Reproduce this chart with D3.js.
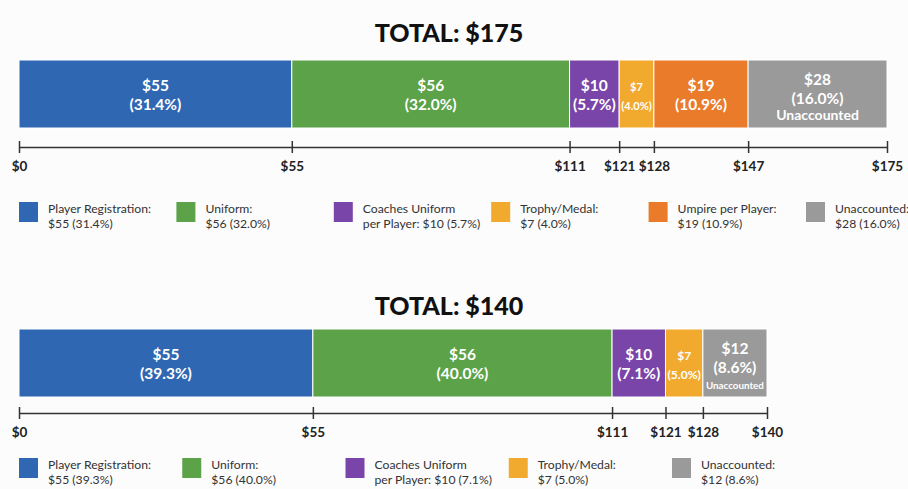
<!DOCTYPE html>
<html><head><meta charset="utf-8">
<script src="https://cdn.jsdelivr.net/npm/d3@7"></script>
<style>
html,body{margin:0;padding:0;background:#fcfcfc;}
svg{display:block;font-family:Lato,"Open Sans",sans-serif;}
</style></head>
<body>
<svg id="chart" width="908" height="489"></svg>
<script>
// ---- data ----
const categoriesTop = ["Player Registration", "Uniform", "Coaches Uniform per Player", "Trophy/Medal", "Umpire per Player", "Unaccounted"];
const valuesTop = [55, 56, 10, 7, 19, 28];
const categoriesBottom = ["Player Registration", "Uniform", "Coaches Uniform per Player", "Trophy/Medal", "Unaccounted"];
const valuesBottom = [55, 56, 10, 7, 12];
const legendNames = {
  "Player Registration": ["Player Registration:", ""],
  "Uniform": ["Uniform:", ""],
  "Coaches Uniform per Player": ["Coaches Uniform", "per Player: "],
  "Trophy/Medal": ["Trophy/Medal:", ""],
  "Umpire per Player": ["Umpire per Player:", ""],
  "Unaccounted": ["Unaccounted:", ""]
};
const colors = {
  "Player Registration": "#2f67b2",
  "Uniform": "#5ba248",
  "Coaches Uniform per Player": "#7a45a9",
  "Trophy/Medal": "#f1a92e",
  "Umpire per Player": "#e97b2a",
  "Unaccounted": "#9a9a9a"
};

const svg = d3.select("#chart");
const pctFmt = d3.format(".1f");

function drawChart(cfg) {
  const { categories, values, barTop, titleY, axisGap, legendGap, rangeRight, legendRight } = cfg;
  const total = d3.sum(values);
  const cum = [0, ...d3.cumsum(values)];
  const x = d3.scaleLinear().domain([0, total]).range([19, rangeRight]);
  const g = svg.append("g");

  // title
  g.append("text").attr("x", 449).attr("y", titleY)
    .attr("text-anchor", "middle")
    .style("font-size", "25px").style("font-weight", 900).style("fill", "#111")
    .text(`TOTAL: $${total}`);

  const barH = 68;
  const segs = categories.map((c, i) => ({
    cat: c, v: values[i], x0: cum[i], x1: cum[i + 1],
    pct: pctFmt(values[i] / total * 100) + "%"
  }));

  g.selectAll("rect.seg").data(segs).join("rect")
    .attr("class", "seg")
    .attr("x", d => x(d.x0)).attr("width", d => x(d.x1) - x(d.x0))
    .attr("y", barTop).attr("height", barH)
    .attr("fill", d => colors[d.cat])
    .attr("stroke", "#ffffff").attr("stroke-width", 1);

  // labels
  segs.forEach(d => {
    const cx = (x(d.x0) + x(d.x1)) / 2;
    const w = x(d.x1) - x(d.x0);
    const lines = [`$${d.v}`, `(${d.pct})`];
    const unacc = d.cat === "Unaccounted";
    const t = g.append("text").attr("text-anchor", "middle")
      .style("fill", "#ffffff").style("font-weight", 700).style("font-size", "15.5px");
    const ys = unacc ? [barTop + 25, barTop + 44] : [barTop + 31, barTop + 50];
    lines.forEach((l, k) => t.append("tspan").attr("x", cx).attr("y", ys[k]).text(l));
    // fit to segment width
    const tw = t.node().getBBox().width;
    if (tw > w - 4) t.style("font-size", Math.max(9, 15.5 * (w - 4) / tw) + "px");
    if (unacc) {
      const u = g.append("text").attr("text-anchor", "middle").attr("x", cx).attr("y", barTop + 60)
        .style("fill", "#ffffff").style("font-weight", 700).style("font-size", "14px")
        .text("Unaccounted");
      const uw = u.node().getBBox().width;
      if (uw > w - 6) u.style("font-size", Math.max(8, 14 * (w - 6) / uw) + "px");
    }
  });

  // axis
  const axisY = barTop + axisGap;
  const axis = d3.axisBottom(x).tickValues(cum).tickFormat(v => `$${v}`)
    .tickSize(6).tickSizeOuter(0).tickPadding(8);
  const ag = g.append("g").attr("transform", `translate(0,${axisY})`).call(axis);
  ag.select(".domain").attr("stroke", "#333").attr("stroke-width", 1.5);
  ag.selectAll(".tick line").attr("y1", -6).attr("stroke", "#333").attr("stroke-width", 1.5);
  ag.selectAll(".tick text").style("font-family", "Lato, sans-serif")
    .style("font-size", "13.5px").style("font-weight", 700).style("fill", "#222");

  // legend
  const lx = d3.scalePoint().domain(categories).range([19, legendRight]);
  const legY = barTop + legendGap;
  const lg = g.append("g").attr("transform", `translate(0,${legY})`);
  segs.forEach(d => {
    const it = lg.append("g").attr("transform", `translate(${lx(d.cat)},0)`);
    it.append("rect").attr("width", 19).attr("height", 20).attr("fill", colors[d.cat]);
    const [l1, l2pre] = legendNames[d.cat];
    const t = it.append("text").attr("x", 29).style("font-size", "12.2px").style("fill", "#333");
    t.append("tspan").attr("x", 29).attr("y", 10.5).text(l1);
    t.append("tspan").attr("x", 29).attr("y", 25.5).text(`${l2pre}$${d.v} (${d.pct})`);
  });
}

drawChart({ categories: categoriesTop, values: valuesTop, barTop: 60, titleY: 42, axisGap: 87, legendGap: 142,
  rangeRight: 887, legendRight: 806 });
drawChart({ categories: categoriesBottom, values: valuesBottom, barTop: 329, titleY: 315, axisGap: 84, legendGap: 129,
  rangeRight: 767, legendRight: 672 });
</script>
</body></html>
